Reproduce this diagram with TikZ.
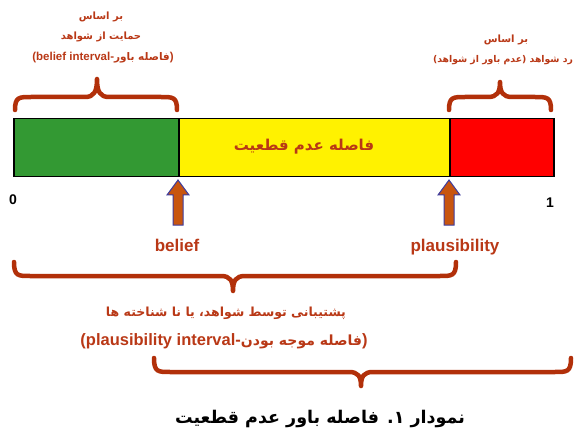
\documentclass[tikz,border=0pt]{standalone}
\usepackage{fontspec}
\setmainfont{Liberation Sans}
\newfontfamily\fa[Script=Arabic]{DejaVu Sans}
\TeXXeTstate=1
\definecolor{brc}{RGB}{178,48,10}
\definecolor{txc}{RGB}{185,56,22}
\definecolor{arrf}{RGB}{200,85,15}
\definecolor{arrd}{RGB}{60,60,160}
\definecolor{grn}{RGB}{51,153,51}
\tikzset{
  bracestyle/.style={draw=brc,line width=4.5pt,line cap=round,line join=round},
  lbl/.style={text=txc,font=\fa\bfseries\fontsize{10}{12}\selectfont,inner sep=0pt,align=center},
  lat/.style={text=txc,font=\bfseries\fontsize{17}{20}\selectfont,inner sep=0pt},
  seg/.style={draw=black,line width=1.5pt},
  uparr/.style={draw=arrd,fill=arrf,line width=1pt,line join=miter},
}
\newcommand\mybrace[6]{%
  \draw[bracestyle] (#1,#4) .. controls (#1,#5) and (#1+4,#5) .. (#1+16,#5)
    -- (#3-12,#5) .. controls (#3-3,#5) and (#3,{#5+0.3*(#6-#5)}) .. (#3,#6)
    .. controls (#3,{#5+0.3*(#6-#5)}) and (#3+3,#5) .. (#3+12,#5)
    -- (#2-16,#5) .. controls (#2-4,#5) and (#2,#5) .. (#2,#4);}
\newcommand\myuparrow[1]{%
  \draw[uparr] (#1-5,225) -- (#1-5,195) -- (#1-11,195) -- (#1,180) -- (#1+11,195) -- (#1+5,195) -- (#1+5,225) -- cycle;}
\begin{document}
\begin{tikzpicture}[x=1pt,y=-1pt]
\useasboundingbox (0,0) rectangle (576,441);
% bar
\node[seg,fill=grn,minimum width=165pt,minimum height=58pt,anchor=north west,inner sep=0pt] (g) at (13,118) {};
\node[seg,fill=yellow,minimum width=271pt,minimum height=58pt,anchor=north west,inner sep=0pt] (y) at (178,118) {};
\node[seg,fill=red,minimum width=104pt,minimum height=58pt,anchor=north west,inner sep=0pt] (r) at (449,118) {};
\node[text=txc,font=\fa\bfseries\fontsize{15}{18}\selectfont,inner sep=0pt] (ut) at (304,147) {\beginR فاصله عدم قطعیت\endR};
% ends
\node[font=\bfseries\fontsize{14}{16}\selectfont,inner sep=0pt] (zero) at (13,200) {0};
\node[font=\bfseries\fontsize{14}{16}\selectfont,inner sep=0pt] (one) at (550,203) {1};
% arrows
\myuparrow{178}
\myuparrow{449}
\node[lat] (bel) at (177,245) {belief};
\node[lat] (pl) at (455,247) {plausibility};
% braces
\mybrace{15}{177}{97}{110}{97}{79}
\mybrace{449}{551}{500}{110}{97}{82}
\mybrace{14}{456}{233}{262}{276}{291}
\mybrace{154}{571}{361}{358}{372}{386}
% top-left text
\node[lbl] (tl1) at (101,17) {\beginR بر اساس\endR};
\node[lbl] (tl2) at (101,37) {\beginR حمایت از شواهد\endR};
\node[lbl,font=\bfseries\fontsize{11.5}{13}\selectfont] (tl3) at (103,58) {(belief interval-{\fa\fontsize{10.5}{12}\selectfont\beginR فاصله باور\endR})};
% top-right text
\node[lbl] (tr1) at (506,40) {\beginR بر اساس\endR};
\node[lbl,font=\fa\bfseries\fontsize{9.3}{12}\selectfont] (tr2) at (503,60) {\beginR رد شواهد (عدم باور از شواهد)\endR};
% bottom text
\node[lbl,font=\fa\bfseries\fontsize{12.5}{15}\selectfont] (b1) at (226,313) {\beginR پشتیبانی توسط شواهد، یا نا شناخته ها\endR};
\node[lbl,font=\bfseries\fontsize{16.5}{19}\selectfont] (b2) at (224,341) {(plausibility interval-{\fa\fontsize{14}{17}\selectfont\beginR فاصله موجه بودن\endR})};
% title
\node[font=\fa\bfseries\fontsize{17.5}{21}\selectfont,inner sep=0pt] (title) at (320,419) {\beginR نمودار ۱. فاصله باور عدم قطعیت\endR};
\end{tikzpicture}
\end{document}
